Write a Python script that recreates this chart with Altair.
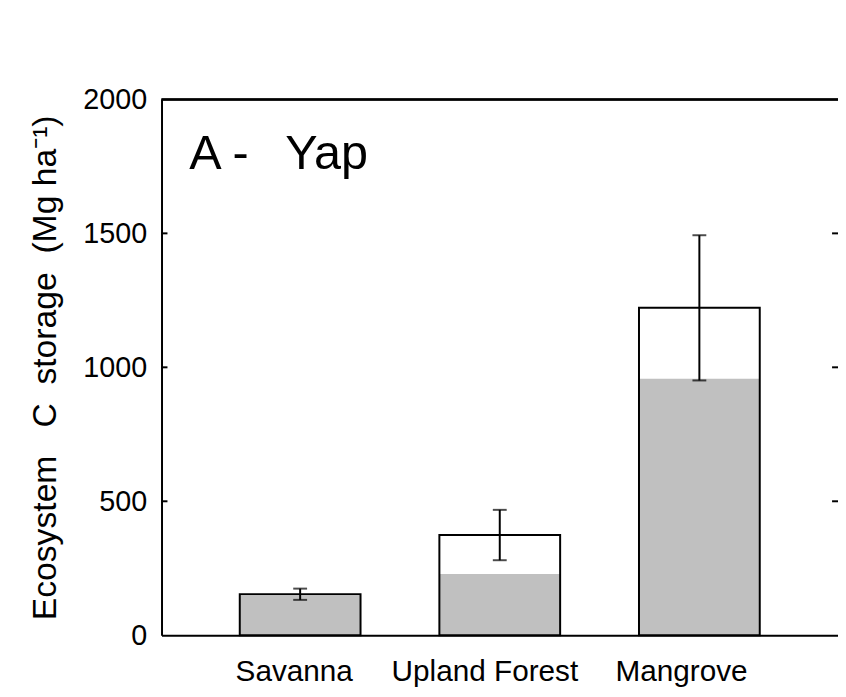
import altair as alt
import pandas as pd

categories = ["Savanna", "Upland Forest", "Mangrove"]
total_c = [153, 374, 1222]
lower_c = [146, 229, 957]
err_c = [21, 94, 271]
tick_values = [0, 500, 1000, 1500, 2000]
inner_ticks = [500, 1000, 1500]
NB = "\u00a0"
panel_label = "A -" + NB * 2 + "\u2009Yap"
y_title = "Ecosystem" + NB * 3 + "C" + NB * 2 + "storage" + NB * 2 + "(Mg" + NB + "ha\u207b\u00b9)"

W, H = 683, 541
FONT = "Liberation Sans"

df = pd.DataFrame({"cat": categories, "total": total_c, "lower": lower_c, "err": err_c})
df["lo"] = df["total"] - df["err"]
df["hi"] = df["total"] + df["err"]
ticks_df = pd.DataFrame({"v": inner_ticks})

label_shift = {
    "condition": [
        {"test": "datum.value === 'Savanna'", "value": -6},
        {"test": "datum.value === 'Upland Forest'", "value": -15},
    ],
    "value": -18,
}

xenc = alt.X("cat:N", sort=categories,
             scale=alt.Scale(paddingInner=0.395, paddingOuter=0.392),
             axis=alt.Axis(title=None, labelAngle=0, ticks=False, tickSize=0,
                           labelFontSize=30, labelPadding=22, labelColor="black",
                           labelLimit=0, domainColor="black", domainWidth=2,
                           labelFont=FONT, labelOffset=label_shift))
yscale = alt.Scale(domain=[0, 2000], nice=False)

base = alt.Chart(df)

gray = base.mark_bar(color="#c0c0c0").encode(
    x=xenc,
    y=alt.Y("lower:Q", scale=yscale,
            axis=alt.Axis(title=y_title, values=tick_values, format="d", ticks=False,
                          tickSize=0, grid=False, labelFontSize=29, labelPadding=15,
                          labelColor="black", domainColor="black", domainWidth=2,
                          titleFontSize=34, titleFontWeight="normal", titleColor="black",
                          titleAngle=-90, titleBaseline="bottom", titleAlign="center",
                          titleX=-100, titleY=H / 2, labelFont=FONT, titleFont=FONT)),
)

outline = base.mark_bar(fill="transparent", stroke="black", strokeWidth=2).encode(
    x=alt.X("cat:N", sort=categories),
    y=alt.Y("total:Q", scale=yscale),
)

err = base.mark_rule(color="black", strokeWidth=2).encode(
    x=alt.X("cat:N", sort=categories),
    y=alt.Y("lo:Q", scale=yscale),
    y2="hi:Q",
)

cap_lo = base.mark_tick(color="black", size=14, thickness=2, orient="horizontal").encode(
    x=alt.X("cat:N", sort=categories),
    y=alt.Y("lo:Q", scale=yscale),
)
cap_hi = base.mark_tick(color="black", size=14, thickness=2, orient="horizontal").encode(
    x=alt.X("cat:N", sort=categories),
    y=alt.Y("hi:Q", scale=yscale),
)

left_ticks = alt.Chart(ticks_df).mark_rule(color="black", strokeWidth=2).encode(
    y=alt.Y("v:Q", scale=yscale), x=alt.value(0), x2=alt.value(6))
right_ticks = alt.Chart(ticks_df).mark_rule(color="black", strokeWidth=2).encode(
    y=alt.Y("v:Q", scale=yscale), x=alt.value(W - 6), x2=alt.value(W))
top_border = alt.Chart(ticks_df).mark_rule(color="black", strokeWidth=2).encode(
    y=alt.datum(2000), x=alt.value(0), x2=alt.value(W))

label = alt.Chart(pd.DataFrame({"t": [panel_label]})).mark_text(
    align="left", baseline="alphabetic", fontSize=49, font=FONT, color="black"
).encode(text="t:N", x=alt.value(28), y=alt.value(70))

chart = alt.layer(gray, outline, err, cap_lo, cap_hi, left_ticks, right_ticks,
                  top_border, label).properties(
    width=W, height=H,
    autosize=alt.AutoSizeParams(type="none"),
    padding={"left": 155, "top": 89, "right": 0, "bottom": 51},
    background="white",
).configure_view(stroke=None).configure(font=FONT)

chart.save("out.html", embed_options={"renderer": "svg", "actions": False})
